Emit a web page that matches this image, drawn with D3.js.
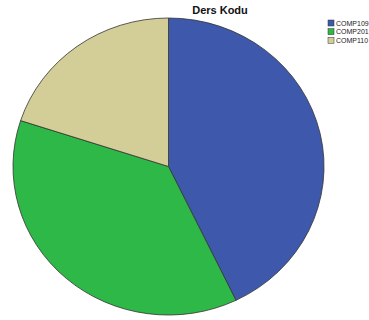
<!DOCTYPE html>
<html>
<head>
<meta charset="utf-8">
<script src="https://cdn.jsdelivr.net/npm/d3@7"></script>
<style>
  html, body { margin: 0; padding: 0; background: #fff; }
  svg { display: block; }
</style>
</head>
<body>
<svg id="chart" width="369" height="320"></svg>
<script>
const categories = ["COMP109", "COMP201", "COMP110"];
const counts = [30, 26, 14];
const colors = ["#3E58AC", "#2EB848", "#D3CE97"];
const title = "Ders Kodu";

const svg = d3.select("#chart");

// Pie is slightly wider than tall: draw on a unit circle and stretch it.
const cx = 168.5, cy = 166.5, rx = 155.5, ry = 148.5;

const pie = d3.pie().sort(null).value(d => d)(counts);
const arc = d3.arc().innerRadius(0).outerRadius(1);

const g = svg.append("g")
  .attr("transform", `translate(${cx},${cy}) scale(${rx},${ry})`);

g.selectAll("path.slice")
  .data(pie)
  .join("path")
  .attr("class", "slice")
  .attr("d", arc)
  .attr("fill", (d, i) => colors[i])
  .attr("stroke", "#333")
  .attr("stroke-width", 0.8)
  .attr("vector-effect", "non-scaling-stroke");

svg.append("text")
  .attr("x", 220)
  .attr("y", 14)
  .attr("text-anchor", "middle")
  .attr("font-family", "Liberation Sans, Arial, sans-serif")
  .attr("font-weight", "bold")
  .attr("font-size", 11)
  .attr("fill", "#111")
  .text(title);

const legend = svg.append("g").attr("transform", "translate(328,20)");
const rowY = d3.scaleBand().domain(categories).range([0, 26]);

const items = legend.selectAll("g.item")
  .data(categories)
  .join("g")
  .attr("class", "item")
  .attr("transform", d => `translate(0,${rowY(d)})`);

items.append("rect")
  .attr("width", 6)
  .attr("height", 6)
  .attr("fill", (d, i) => colors[i])
  .attr("stroke", "#333")
  .attr("stroke-width", 0.5);

items.append("text")
  .attr("x", 8)
  .attr("y", 5.5)
  .attr("font-family", "Liberation Sans, Arial, sans-serif")
  .attr("font-size", 7)
  .attr("fill", "#222")
  .text(d => d);
</script>
</body>
</html>
